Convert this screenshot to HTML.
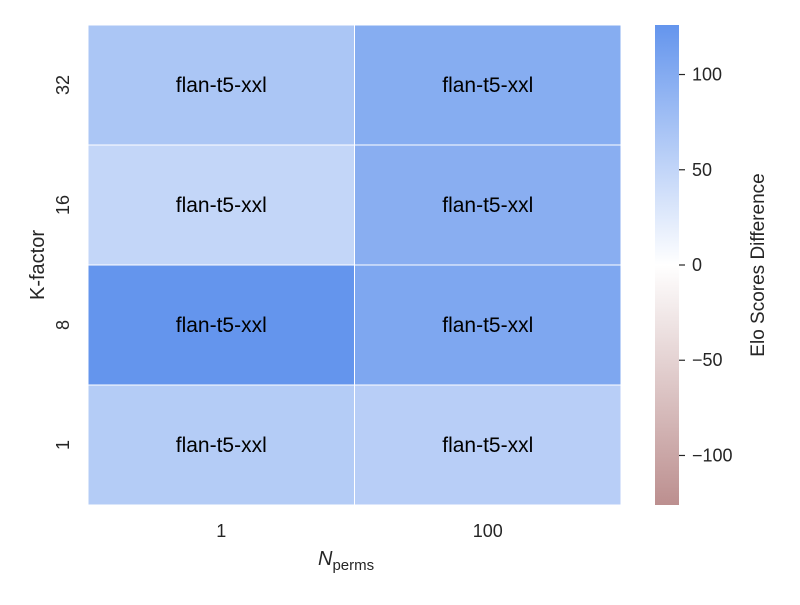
<!DOCTYPE html>
<html><head><meta charset="utf-8"><style>
body{margin:0;background:#fff;}
svg text{font-family:"Liberation Sans",Arial,sans-serif;}
</style></head><body>
<svg id="chart" width="800" height="600" xmlns="http://www.w3.org/2000/svg">
<defs>
<linearGradient id="cbgrad" x1="0" y1="1" x2="0" y2="0">
<stop offset="0" stop-color="#bc8f8f"/>
<stop offset="0.5" stop-color="#ffffff"/>
<stop offset="1" stop-color="#6495ed"/>
</linearGradient>
</defs>
<g id="cells"></g>
<g id="yticks"></g>
<g id="xticks"></g>
<text transform="translate(44,265) rotate(-90)" text-anchor="middle" font-size="20" fill="#262626">K-factor</text>
<text x="318" y="565" font-size="20" fill="#262626"><tspan font-style="italic">N</tspan><tspan font-size="15" dy="5">perms</tspan></text>
<rect x="655" y="25" width="24" height="480" fill="url(#cbgrad)"/>
<g id="cbticks"></g>
<text transform="translate(764,265) rotate(-90)" text-anchor="middle" font-size="19" fill="#262626">Elo Scores Difference</text>
</svg>
<script>
const rowLabels = ["32","16","8","1"];
const colLabels = ["1","100"];
const values = [[68,98],[49,96],[126,105],[61,58]];
const cellText = "flan-t5-xxl";
const cbTicks = [100,50,0,-50,-100];
const vmin = -126, vmax = 126;

const NS="http://www.w3.org/2000/svg";
const plotLeft=88,plotRight=621,plotTop=25,plotBottom=505;
const cw=(plotRight-plotLeft)/colLabels.length, ch=(plotBottom-plotTop)/rowLabels.length;
function xPos(j){return plotLeft+j*cw;}
function yPos(i){return plotTop+i*ch;}
function cbY(v){return plotBottom-(v-vmin)/(vmax-vmin)*(plotBottom-plotTop);}
function mix(a,b,t){return a.map((c,k)=>Math.round(c+(b[k]-c)*t));}
function color(v){
  const w=[255,255,255],pos=[100,149,237],neg=[188,143,143];
  const t=Math.max(-1,Math.min(1,v/vmax));
  const c=t>=0?mix(w,pos,t):mix(w,neg,-t);
  return `rgb(${c[0]},${c[1]},${c[2]})`;
}
function el(tag,attrs,parent,text){
  const e=document.createElementNS(NS,tag);
  for(const k in attrs)e.setAttribute(k,attrs[k]);
  if(text!==undefined)e.textContent=text;
  parent.appendChild(e);return e;
}
const cells=document.getElementById('cells');
values.forEach((row,i)=>row.forEach((v,j)=>{
  const r=el('rect',{x:xPos(j),y:yPos(i),width:cw,height:ch,fill:color(v),stroke:'#fff','stroke-width':1},cells);
  
  
  const t=el('text',{x:xPos(j)+cw/2,y:yPos(i)+ch/2+7,'text-anchor':'middle','font-size':21,fill:'#000'},cells,cellText);
  
  
}));
const yt=document.getElementById('yticks');
rowLabels.forEach((l,i)=>{
  const cy=yPos(i)+ch/2;
  const t=el('text',{transform:`translate(69,${cy}) rotate(-90)`,'text-anchor':'middle','font-size':18,fill:'#262626'},yt,l);
  
  
});
const xt=document.getElementById('xticks');
colLabels.forEach((l,j)=>{
  const t=el('text',{x:xPos(j)+cw/2,y:537,'text-anchor':'middle','font-size':18,fill:'#262626'},xt,l);
  
  
});
const cb=document.getElementById('cbticks');
cbTicks.forEach(v=>{
  const y=cbY(v);
  const ln=el('line',{x1:679,x2:685,y1:y,y2:y,stroke:'#262626','stroke-width':1.2},cb);
  
  
  const t=el('text',{x:692,y:y+6,'font-size':18,fill:'#262626'},cb,v<0?'\u2212'+(-v):String(v));
  
  
});
</script>
</body></html>
